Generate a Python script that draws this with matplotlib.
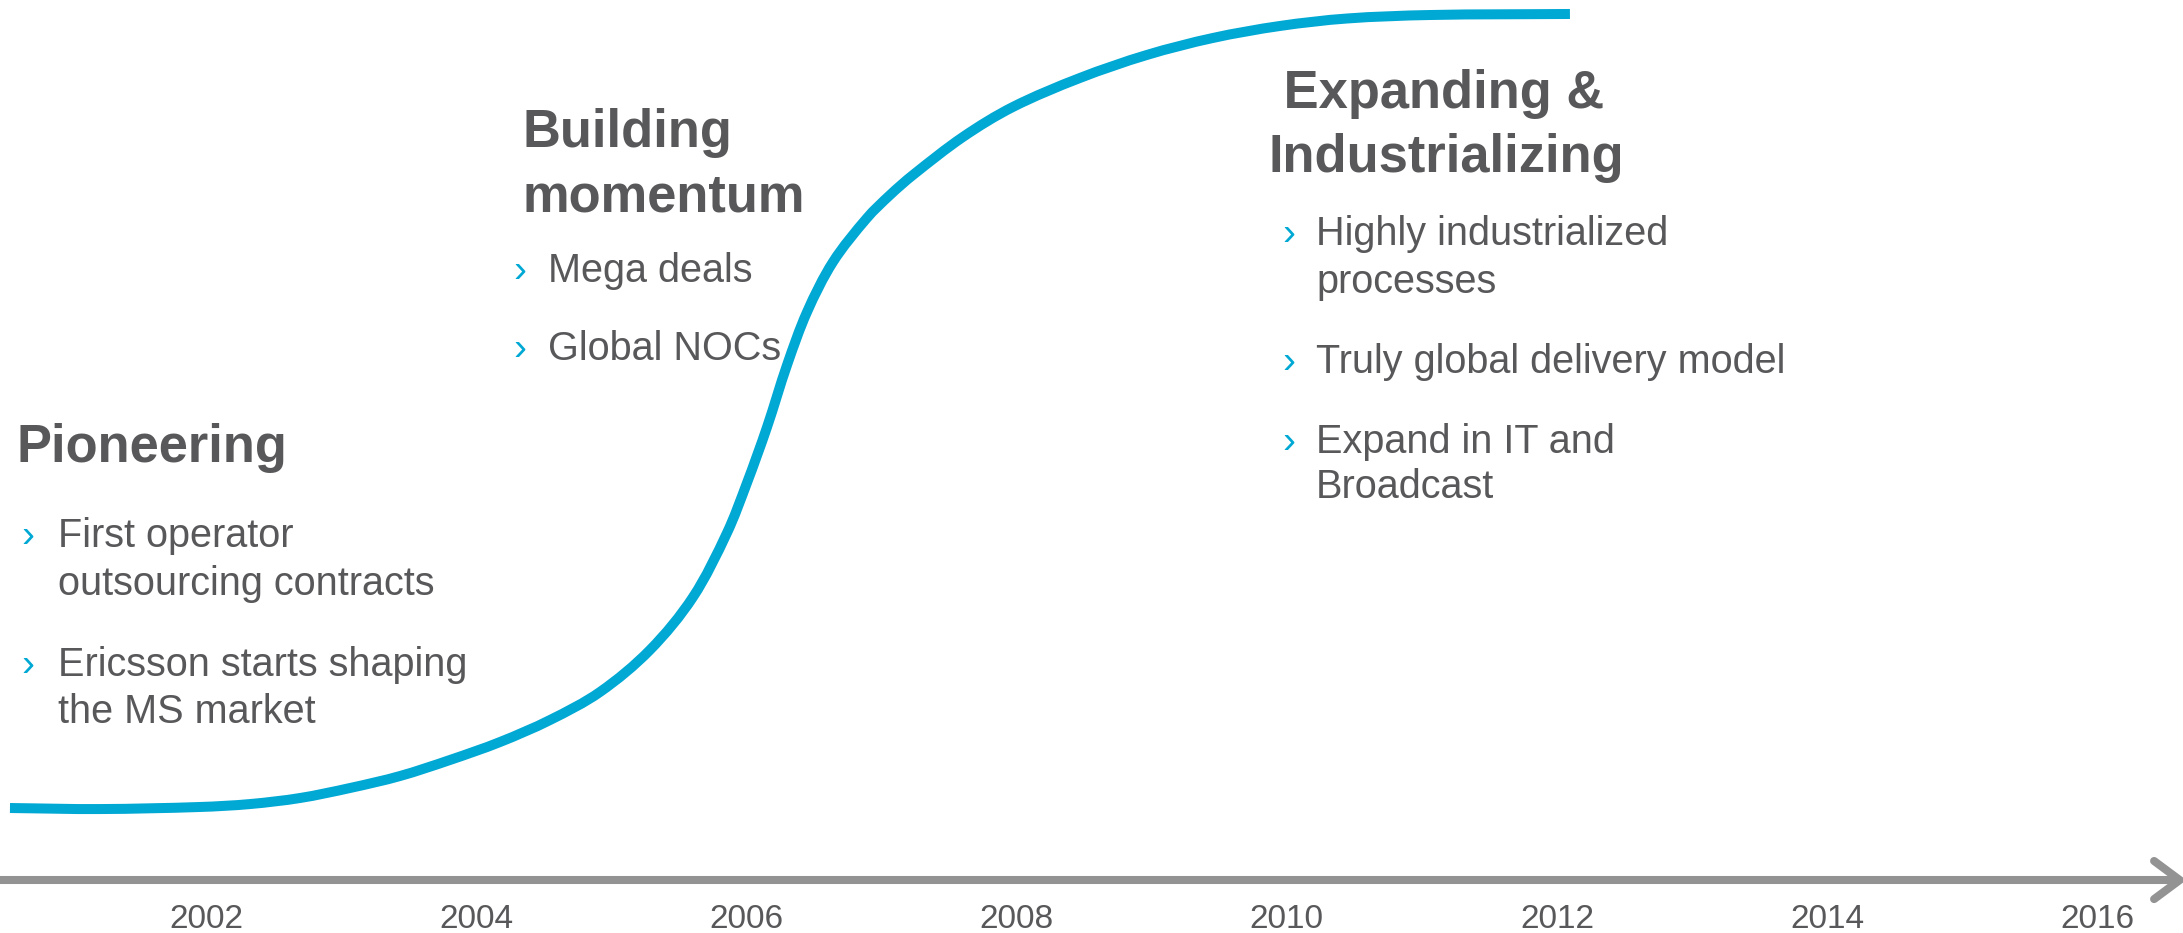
import matplotlib
matplotlib.use("Agg")
import matplotlib.pyplot as plt
import matplotlib.transforms as mtransforms
from matplotlib.path import Path
from matplotlib.patches import PathPatch
import numpy as np

# --- datos de la curva (año, nivel de madurez 0-100) ---
anios = [2000.549, 2001.215, 2001.956, 2002.326, 2002.696, 2003.066,
         2003.436, 2003.806, 2004.176, 2004.546, 2004.916, 2005.286,
         2005.605, 2005.856, 2006.004, 2006.153, 2006.301, 2006.449,
         2006.641, 2006.893, 2007.063, 2007.233, 2007.603, 2007.973,
         2008.469, 2008.965, 2009.454, 2009.950, 2010.446, 2011.060,
         2012.096]
nivel = [0.0, -0.13, 0.13, 0.50, 1.26, 2.52,
         4.03, 6.05, 8.31, 11.08, 14.61, 19.90,
         26.57, 34.63, 40.93, 47.98, 55.79, 62.47,
         68.77, 74.31, 77.20, 79.72, 84.51, 88.29,
         91.94, 94.84, 96.98, 98.49, 99.43, 99.87,
         100.0]

anios_eje = [2002, 2004, 2006, 2008, 2010, 2012, 2014, 2016]

titulos = ["Pioneering", "Building\nmomentum", " Expanding &\nIndustrializing"]
puntos = [
    ["First operator\noutsourcing contracts", "Ericsson starts shaping\nthe MS market"],
    ["Mega deals", "Global NOCs"],
    ["Highly industrialized\nprocesses", "Truly global delivery model",
     "Expand in IT and\nBroadcast"],
]

# --- estilo ---
AZUL = "#00a8d4"
GRIS_TXT = "#58585a"
GRIS_EJE = "#939393"
FUENTE = ["Liberation Sans", "DejaVu Sans"]

W, H = 2183, 933
X0, X1 = 2000.4752, 2016.634
Y0, Y1 = -15.74, 101.76

fig = plt.figure(figsize=(W / 100, H / 100), dpi=100)
ax = fig.add_axes([0, 0, 1, 1])
ax.set_xlim(X0, X1)
ax.set_ylim(Y0, Y1)
ax.axis("off")


def fx(px):
    return px / W


def fy(py):
    return 1 - py / H


def trazo_suave(xs, ys):
    """Path Bezier que pasa por todos los puntos (tangentes en pixeles)."""
    sx, sy = W / (X1 - X0), H / (Y1 - Y0)
    p = np.column_stack([np.asarray(xs) * sx, np.asarray(ys) * sy])
    n = len(p)
    tang = np.zeros_like(p)
    for i in range(n):
        d = p[min(i + 1, n - 1)] - p[max(i - 1, 0)]
        tang[i] = d / np.hypot(*d)
    verts = [p[0]]
    codes = [Path.MOVETO]
    for i in range(n - 1):
        L = np.hypot(*(p[i + 1] - p[i])) / 3
        verts += [p[i] + tang[i] * L, p[i + 1] - tang[i + 1] * L, p[i + 1]]
        codes += [Path.CURVE4] * 3
    verts = np.array(verts) / [sx, sy]
    return Path(verts, codes)


# curva S
ax.add_patch(PathPatch(trazo_suave(anios, nivel), facecolor="none",
                       edgecolor=AZUL, lw=7.2, capstyle="butt",
                       joinstyle="round"))

# linea de tiempo con flecha
y_eje = -9.07
ax.plot([X0, 2016.61], [y_eje, y_eje], color=GRIS_EJE, lw=5.8,
        solid_capstyle="butt")
ax.plot([2016.42, 2016.61, 2016.42], [y_eje + 2.4, y_eje, y_eje - 2.4],
        color=GRIS_EJE, lw=5.8, solid_capstyle="round",
        solid_joinstyle="miter")

trans = mtransforms.blended_transform_factory(ax.transData, fig.transFigure)
for a in anios_eje:
    ax.text(a, fy(928), str(a), transform=trans, ha="center", va="baseline",
            fontsize=24, color=GRIS_TXT, family=FUENTE)

# bloques de texto: (x titulo, y base titulo, x bala, x texto, bases de cada linea)
bloques = [
    (17, [462], 21, 58, [[547, 595], [676, 723]]),
    (522, [147, 212], 513, 548, [[282], [360]]),
    (1269, [108, 172], 1282, 1316, [[245, 293], [373], [453, 498]]),
]

for (xt, yts, xb, xtx, bases), titulo, items in zip(bloques, titulos, puntos):
    for linea, yb in zip(titulo.split("\n"), yts):
        fig.text(fx(xt), fy(yb), linea, ha="left", va="baseline",
                 fontsize=37.8, fontweight="bold", color=GRIS_TXT,
                 family=FUENTE)
    for item, ys in zip(items, bases):
        fig.text(fx(xb), fy(ys[0]), "\u203a", ha="left", va="baseline",
                 fontsize=28, color=AZUL, family=FUENTE)
        for linea, yb in zip(item.split("\n"), ys):
            fig.text(fx(xtx), fy(yb), linea, ha="left", va="baseline",
                     fontsize=28.5, color=GRIS_TXT, family=FUENTE)

fig.savefig("out.png", dpi=100, facecolor="white")
